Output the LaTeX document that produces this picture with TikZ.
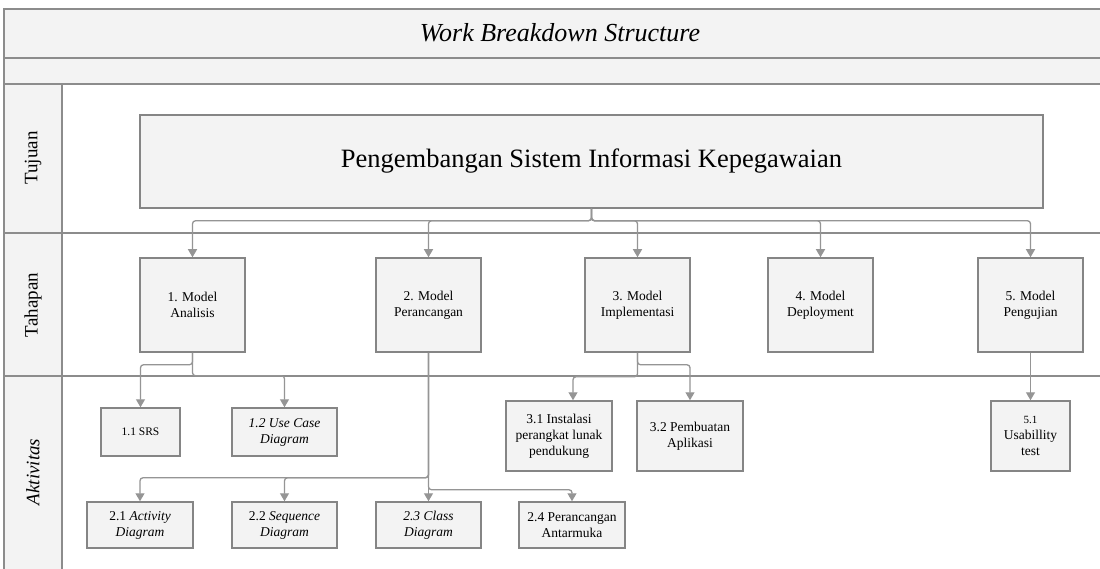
\documentclass[tikz,border=0pt]{standalone}
\usepackage{fontspec}
\setmainfont{Liberation Serif}
\usetikzlibrary{arrows.meta}
\definecolor{lanegray}{HTML}{8C8C8C}
\definecolor{boxgray}{HTML}{858585}
\definecolor{linkgray}{HTML}{959595}
\definecolor{boxfill}{HTML}{F3F3F3}
\tikzset{
  lane/.style={draw=lanegray, line width=1.8pt},
  wbs/.style={draw=boxgray, fill=boxfill, line width=1.5pt, align=center, inner sep=1pt,
    font=\fontsize{13.5}{16}\selectfont},
  lanelabel/.style={rotate=90, font=\fontsize{19}{22}\selectfont},
  link/.style={draw=linkgray, line width=1.3pt, rounded corners=3pt,
    -{Triangle[width=9pt,length=8pt]}, color=linkgray}
}
\begin{document}
\begin{tikzpicture}[x=1pt,y=-1pt]
\useasboundingbox (0,0) rectangle (1100,569);
\fill[white] (0,0) rectangle (1100,569);
% header bands and label column
\fill[boxfill] (4,9) rectangle (1100,84);
\fill[boxfill] (4,84) rectangle (62,569);
\draw[lane] (4,569) -- (4,9) -- (1100,9);
\draw[lane] (4,58) -- (1100,58);
\draw[lane] (4,84) -- (1100,84);
\draw[lane] (4,233) -- (1100,233);
\draw[lane] (4,376) -- (1100,376);
\draw[lane] (62,84) -- (62,569);
% titles
\node[font=\fontsize{26}{29}\selectfont\itshape] (title) at (560,33) {Work Breakdown Structure};
\node[lanelabel] (ltujuan) at (33,158) {Tujuan};
\node[lanelabel] (ltahapan) at (33,305) {Tahapan};
\node[lanelabel, font=\fontsize{19}{22}\selectfont\itshape] (laktivitas) at (33,472) {Aktivitas};
% goal
\node[wbs, minimum width=903pt, minimum height=93pt, font=\fontsize{26.5}{30}\selectfont] (main) at (591.5,161.5) {Pengembangan Sistem Informasi Kepegawaian};
% stages
\node[wbs, minimum width=105pt, minimum height=94pt] (b1) at (192.5,305) {1. Model\\Analisis};
\node[wbs, minimum width=105pt, minimum height=94pt] (b2) at (428.5,305) {2. Model\\Perancangan};
\node[wbs, minimum width=105pt, minimum height=94pt] (b3) at (637.5,305) {3. Model\\Implementasi};
\node[wbs, minimum width=105pt, minimum height=94pt] (b4) at (820.5,305) {4. Model\\Deployment};
\node[wbs, minimum width=105pt, minimum height=94pt] (b5) at (1030.5,305) {5. Model\\Pengujian};
% activities
\node[wbs, minimum width=79pt, minimum height=48pt, font=\fontsize{11.5}{14}\selectfont] (a11) at (140.5,432) {1.1 SRS};
\node[wbs, minimum width=105pt, minimum height=48pt, font=\fontsize{13.5}{16}\selectfont\itshape] (a12) at (284.5,432) {1.2 Use Case\\Diagram};
\node[wbs, minimum width=106pt, minimum height=46pt] (a21) at (140,525) {2.1 \textit{Activity}\\\textit{Diagram}};
\node[wbs, minimum width=105pt, minimum height=46pt] (a22) at (284.5,525) {2.2 \textit{Sequence}\\\textit{Diagram}};
\node[wbs, minimum width=105pt, minimum height=46pt, font=\fontsize{13.5}{16}\selectfont\itshape] (a23) at (428.5,525) {2.3 Class\\Diagram};
\node[wbs, minimum width=106pt, minimum height=46pt] (a24) at (572,525) {2.4 Perancangan\\Antarmuka};
\node[wbs, minimum width=106pt, minimum height=70pt] (a31) at (559,436) {3.1 Instalasi\\perangkat lunak\\pendukung};
\node[wbs, minimum width=106pt, minimum height=70pt] (a32) at (690,436) {3.2 Pembuatan\\Aplikasi};
\node[wbs, minimum width=79pt, minimum height=70pt] (a51) at (1030.5,436) {{\fontsize{11}{14}\selectfont 5.1}\\Usabillity\\test};
% goal to stages
\foreach \b in {b1,b2,b3,b4,b5}
  \draw[link] (main.south) -- ++(0,12) -| (\b.north);
% stages to activities
\draw[link] (b1.south) -- ++(0,12) -| (a11.north);
\draw[link] (b1.south) -- ++(0,23) -| (a12.north);
\draw[link] (b2.south) -- ++(0,125) -| (a21.north);
\draw[link] (b2.south) -- ++(0,125) -| (a22.north);
\draw[link] (b2.south) -- (a23.north);
\draw[link] (b2.south) -- ++(0,137) -| (a24.north);
\draw[link] (b3.south) -- ++(0,24) -| ([xshift=14pt]a31.north);
\draw[link] (b3.south) -- ++(0,12) -| (a32.north);
\draw[link] (b5.south) -- (a51.north);
\end{tikzpicture}
\end{document}
